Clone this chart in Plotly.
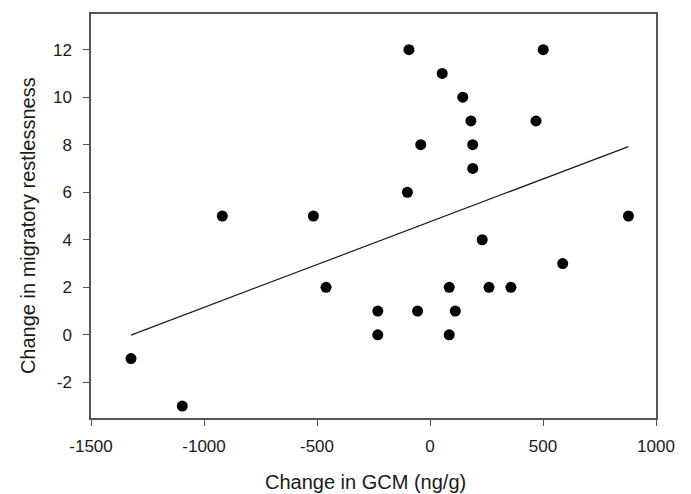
import numpy as np
import plotly.graph_objects as go

gcm_change = [-93, 501, 54, 145, 181, 469, -41, 189, 189, -100,
              -919, -516, -460, -231, -231, -1323, -1096,
              878, 231, 587, 85, 261, 358, -55, 112, 85]
restless_change = [12, 12, 11, 10, 9, 9, 8, 8, 7, 6,
                   5, 5, 2, 1, 0, -1, -3,
                   5, 4, 3, 2, 2, 2, 1, 1, 0]

x_ticks = [-1500, -1000, -500, 0, 500, 1000]
x_tick_text = ["-1500", "-1000", "-500", "0", "500", "1000"]
y_ticks = [-2, 0, 2, 4, 6, 8, 10, 12]
y_tick_text = ["-2", "0", "2", "4", "6", "8", "10", "12"]

slope, intercept = np.polyfit(gcm_change, restless_change, 1)
fit_x = [min(gcm_change), max(gcm_change)]
fit_y = [slope * v + intercept for v in fit_x]

fig = go.Figure()
fig.add_trace(go.Scatter(x=fit_x, y=fit_y, mode="lines",
                         line=dict(color="#1a1a1a", width=1.2), showlegend=False))
fig.add_trace(go.Scatter(x=gcm_change, y=restless_change, mode="markers",
                         marker=dict(color="black", size=11), showlegend=False))

font_family = "Liberation Sans, Arial, sans-serif"
text_color = "#1a1a1a"
fig.update_layout(
    width=691, height=494,
    margin=dict(l=91, r=35, t=12, b=76),
    plot_bgcolor="white", paper_bgcolor="white",
    font=dict(family=font_family, color=text_color),
)
fig.update_xaxes(
    range=[-1500, 1000], tickvals=x_ticks, ticktext=x_tick_text,
    ticks="outside", ticklen=6, tickcolor="#555", tickwidth=1.3,
    showline=True, linecolor="#555", linewidth=1.5,
    mirror=True, showgrid=False, zeroline=False,
    ticklabelstandoff=6,
    tickfont=dict(size=17, family=font_family, color=text_color),
)
fig.update_yaxes(
    range=[-3.5, 13.5], tickvals=y_ticks, ticktext=y_tick_text,
    ticks="outside", ticklen=6, tickcolor="#555", tickwidth=1.3,
    showline=True, linecolor="#555", linewidth=1.5,
    mirror=True, showgrid=False, zeroline=False,
    ticklabelstandoff=8,
    tickfont=dict(size=17, family=font_family, color=text_color),
)

fig.add_annotation(text="Change in GCM (ng/g)", xref="paper", yref="paper",
                   x=0.485, y=0, yshift=-64, xanchor="center", yanchor="middle",
                   showarrow=False, font=dict(size=20, family=font_family, color=text_color))
fig.add_annotation(text="Change in migratory restlessness", xref="paper", yref="paper",
                   x=0, y=0.475, xshift=-63, xanchor="center", yanchor="middle",
                   textangle=-90, showarrow=False,
                   font=dict(size=20, family=font_family, color=text_color))

fig.write_html("out.html", config={"displayModeBar": False},
               post_script="document.body.style.margin='0';")
